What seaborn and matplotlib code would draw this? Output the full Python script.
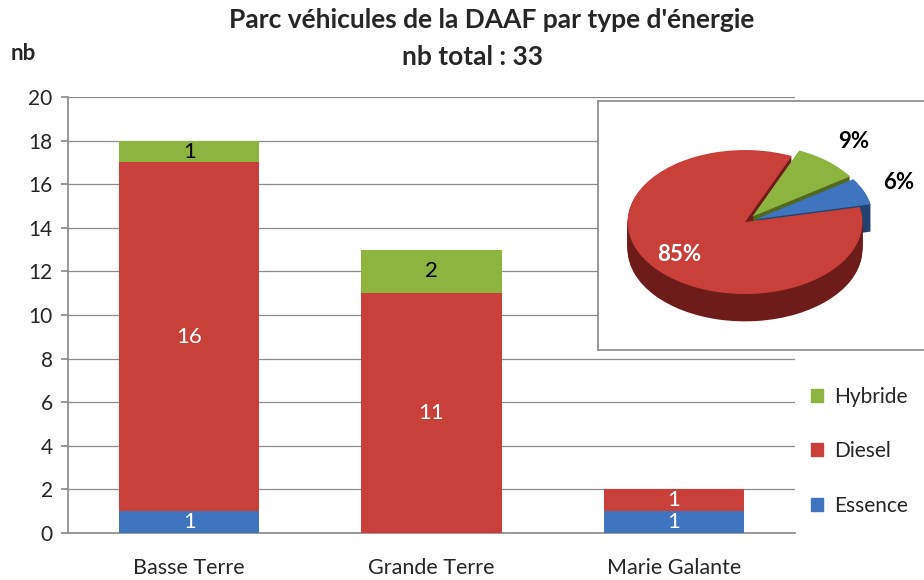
import numpy as np
import pandas as pd
import matplotlib
matplotlib.use("Agg")
import matplotlib.pyplot as plt
import seaborn as sns
from matplotlib.patches import Patch

# data
sites = ["Basse Terre", "Grande Terre", "Marie Galante"]
essence = [1, 0, 1]
diesel = [16, 11, 1]
hybride = [1, 2, 0]
energies = ["Essence", "Diesel", "Hybride"]
title = "Parc véhicules de la DAAF par type d'énergie"

colors = {"Essence": "#3F74BE", "Diesel": "#C9403B", "Hybride": "#8DB43F"}
dark = {"Essence": "#22436F", "Diesel": "#6E1C1A", "Hybride": "#50681F"}

sns.set_theme(style="white")
plt.rcParams["font.family"] = ["Lato", "DejaVu Sans"]

df = pd.DataFrame({"site": sites, "Essence": essence,
                   "Diesel": diesel, "Hybride": hybride})
df["c_ess"] = df["Essence"]
df["c_die"] = df["c_ess"] + df["Diesel"]
df["c_hyb"] = df["c_die"] + df["Hybride"]
total = int(df[["Essence", "Diesel", "Hybride"]].values.sum())

fig = plt.figure(figsize=(9.24, 5.8), dpi=100)
ax = fig.add_axes([68 / 924, 47 / 580, 727 / 924, 436 / 580])

# stacked bars: draw cumulative totals from top to bottom
for col, name in [("c_hyb", "Hybride"), ("c_die", "Diesel"), ("c_ess", "Essence")]:
    sns.barplot(data=df, x="site", y=col, color=colors[name], width=0.58,
                saturation=1, linewidth=0, ax=ax, zorder=3)

# segment labels
for i in range(len(sites)):
    bottom = 0
    for name in energies:
        v = df.loc[i, name]
        if v > 0:
            ax.text(i, bottom + v / 2, str(v), ha="center", va="center",
                    fontsize=16, color="black" if name == "Hybride" else "white",
                    zorder=4)
        bottom += v

ax.set_ylim(0, 20)
ax.set_xlim(-0.5, 2.5)
ax.set_yticks(range(0, 21, 2))
ax.yaxis.grid(True, color="#8c8c8c", linewidth=0.9)
ax.set_axisbelow(True)
ax.set_xlabel("")
ax.set_ylabel("")
for s in ["top", "right"]:
    ax.spines[s].set_visible(False)
for s in ["left", "bottom"]:
    ax.spines[s].set_color("#8c8c8c")
ax.tick_params(axis="y", labelsize=15, left=True, length=5, color="#8c8c8c", pad=6)
ax.tick_params(axis="x", labelsize=15.5, pad=12)

fig.text(492 / 924, 1 - 20 / 580, title, ha="center", va="center",
         fontsize=19, fontweight="bold")
fig.text(472 / 924, 1 - 57 / 580, f"nb total : {total}", ha="center", va="center",
         fontsize=19, fontweight="bold")
fig.text(23 / 924, 1 - 53 / 580, "nb", ha="center", va="center",
         fontsize=16, fontweight="bold")

# inset box for the pie
box = fig.add_axes([598 / 924, 230 / 580, 340 / 924, 249 / 580])
box.set_xticks([])
box.set_yticks([])
box.set_facecolor("white")
for s in box.spines.values():
    s.set_color("#8c8c8c")

pie_ax = fig.add_axes([610 / 924, 250 / 580, 270 / 924, 190 / 580])

sums = [sum(essence), sum(hybride), sum(diesel)]
order = ["Essence", "Hybride", "Diesel"]
explode = [0.1, 0.1, 0.0]
depth = 0.38
start = 12
for dy in np.linspace(depth, 0.01, 24):
    pie_ax.pie(sums, colors=[dark[n] for n in order], startangle=start,
               explode=explode, center=(0, -dy), frame=True,
               wedgeprops={"linewidth": 0})
wedges, _ = pie_ax.pie(sums, colors=[colors[n] for n in order], startangle=start,
                       explode=explode, center=(0, 0), frame=True,
                       wedgeprops={"linewidth": 0})
pie_ax.set_xlim(-1.15, 1.15)
pie_ax.set_ylim(-1.5, 1.14)
pie_ax.set_aspect("auto")
pie_ax.axis("off")

dist = {"Essence": 1.42, "Hybride": 1.45, "Diesel": 0.72}
for w, n, v in zip(wedges, order, sums):
    ang = np.deg2rad((w.theta1 + w.theta2) / 2)
    pct = round(100 * v / sum(sums))
    pie_ax.text(dist[n] * np.cos(ang), dist[n] * np.sin(ang), f"{pct}%",
                ha="center", va="center", fontsize=16, fontweight="bold",
                color="white" if n == "Diesel" else "black")

handles = [Patch(color=colors[n]) for n in ["Hybride", "Diesel", "Essence"]]
fig.legend(handles, ["Hybride", "Diesel", "Essence"], loc="upper left",
           bbox_to_anchor=(792 / 924, 1 - 368 / 580), frameon=False,
           fontsize=15, labelspacing=1.65, handlelength=0.6, handleheight=0.6,
           handletextpad=0.5)

fig.savefig("out.png", dpi=100)
